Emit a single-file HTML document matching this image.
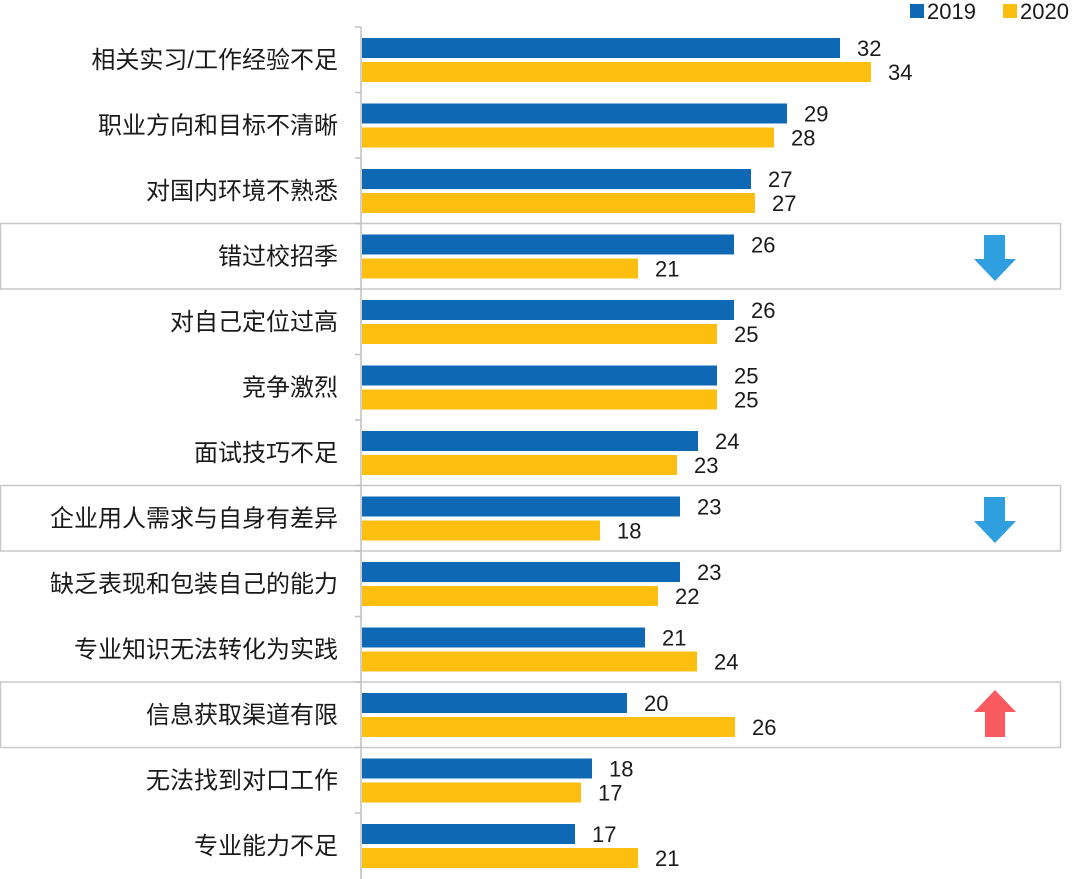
<!DOCTYPE html>
<html><head><meta charset="utf-8"><style>
html,body{margin:0;padding:0;background:#fff;}
svg{display:block;}
text{font-family:"Liberation Sans","Noto Sans CJK SC",sans-serif;fill:#1a1a1a;}
</style></head><body>
<svg width="1080" height="879" viewBox="0 0 1080 879" xmlns="http://www.w3.org/2000/svg">
<rect x="0.5" y="223.5" width="1060" height="65.5" fill="none" stroke="#c8c8c8" stroke-width="1.5"/>
<rect x="0.5" y="485.5" width="1060" height="65.5" fill="none" stroke="#c8c8c8" stroke-width="1.5"/>
<rect x="0.5" y="682" width="1060" height="65.5" fill="none" stroke="#c8c8c8" stroke-width="1.5"/>
<rect x="910" y="4" width="14" height="14" fill="#0f68b4"/>
<text x="927" y="19" font-size="22">2019</text>
<rect x="1003" y="4" width="14" height="14" fill="#fdbf0f"/>
<text x="1020" y="19" font-size="22">2020</text>
<line x1="361" y1="27" x2="361" y2="879" stroke="#bfbfbf" stroke-width="1.5"/>
<g stroke="#bfbfbf" stroke-width="1.5">
<line x1="355" y1="27" x2="361" y2="27"/><line x1="355" y1="92.5" x2="361" y2="92.5"/><line x1="355" y1="158" x2="361" y2="158"/><line x1="355" y1="223.5" x2="361" y2="223.5"/><line x1="355" y1="289" x2="361" y2="289"/><line x1="355" y1="354.5" x2="361" y2="354.5"/><line x1="355" y1="420" x2="361" y2="420"/><line x1="355" y1="485.5" x2="361" y2="485.5"/><line x1="355" y1="551" x2="361" y2="551"/><line x1="355" y1="616.5" x2="361" y2="616.5"/><line x1="355" y1="682" x2="361" y2="682"/><line x1="355" y1="747.5" x2="361" y2="747.5"/><line x1="355" y1="813" x2="361" y2="813"/>
</g>
<g font-size="24" text-anchor="end">
<text x="338" y="68">相关实习/工作经验不足</text>
<text x="338" y="133.5">职业方向和目标不清晰</text>
<text x="338" y="199">对国内环境不熟悉</text>
<text x="338" y="264.5">错过校招季</text>
<text x="338" y="330">对自己定位过高</text>
<text x="338" y="395.5">竞争激烈</text>
<text x="338" y="461">面试技巧不足</text>
<text x="338" y="526.5">企业用人需求与自身有差异</text>
<text x="338" y="592">缺乏表现和包装自己的能力</text>
<text x="338" y="657.5">专业知识无法转化为实践</text>
<text x="338" y="723">信息获取渠道有限</text>
<text x="338" y="788.5">无法找到对口工作</text>
<text x="338" y="854">专业能力不足</text>
</g>
<g fill="#0f68b4">
<rect x="362" y="38" width="478" height="20"/>
<rect x="362" y="103.5" width="425" height="20"/>
<rect x="362" y="169" width="389" height="20"/>
<rect x="362" y="234.5" width="372" height="20"/>
<rect x="362" y="300" width="372" height="20"/>
<rect x="362" y="365.5" width="355" height="20"/>
<rect x="362" y="431" width="336" height="20"/>
<rect x="362" y="496.5" width="318" height="20"/>
<rect x="362" y="562" width="318" height="20"/>
<rect x="362" y="627.5" width="283" height="20"/>
<rect x="362" y="693" width="265" height="20"/>
<rect x="362" y="758.5" width="230" height="20"/>
<rect x="362" y="824" width="213" height="20"/>
</g>
<g fill="#fdbf0f">
<rect x="362" y="62" width="509" height="20"/>
<rect x="362" y="127.5" width="412" height="20"/>
<rect x="362" y="193" width="393" height="20"/>
<rect x="362" y="258.5" width="276" height="20"/>
<rect x="362" y="324" width="355" height="20"/>
<rect x="362" y="389.5" width="355" height="20"/>
<rect x="362" y="455" width="315" height="20"/>
<rect x="362" y="520.5" width="238" height="20"/>
<rect x="362" y="586" width="296" height="20"/>
<rect x="362" y="651.5" width="335" height="20"/>
<rect x="362" y="717" width="373" height="20"/>
<rect x="362" y="782.5" width="219" height="20"/>
<rect x="362" y="848" width="276" height="20"/>
</g>
<g font-size="22">
<text x="857" y="56">32</text><text x="888" y="80">34</text>
<text x="804" y="121.5">29</text><text x="791" y="145.5">28</text>
<text x="768" y="187">27</text><text x="772" y="211">27</text>
<text x="751" y="252.5">26</text><text x="655" y="276.5">21</text>
<text x="751" y="318">26</text><text x="734" y="342">25</text>
<text x="734" y="383.5">25</text><text x="734" y="407.5">25</text>
<text x="715" y="449">24</text><text x="694" y="473">23</text>
<text x="697" y="514.5">23</text><text x="617" y="538.5">18</text>
<text x="697" y="580">23</text><text x="675" y="604">22</text>
<text x="662" y="645.5">21</text><text x="714" y="669.5">24</text>
<text x="644" y="711">20</text><text x="752" y="735">26</text>
<text x="609" y="776.5">18</text><text x="598" y="800.5">17</text>
<text x="592" y="842">17</text><text x="655" y="866">21</text>
</g>
<polygon points="984,235 1005,235 1005,259 1016,259 995,281 974,259 984,259" fill="#2f9fe0"/>
<polygon points="984,497 1005,497 1005,521 1016,521 995,543 974,521 984,521" fill="#2f9fe0"/>
<polygon points="995,690 1016,712 1005,712 1005,737 985,737 985,712 974,712" fill="#f85a5f"/>
</svg>
</body></html>
